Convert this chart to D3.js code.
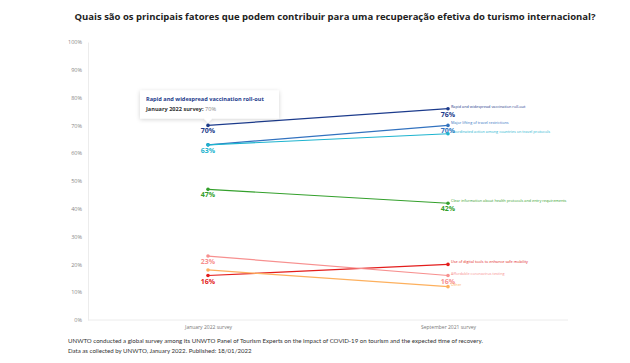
<!DOCTYPE html>
<html>
<head>
<meta charset="utf-8">
<script src="https://cdn.jsdelivr.net/npm/d3@7"></script>
<style>
  body { margin: 0; background: #fff; }
  text { font-family: "Open Sans", sans-serif; }
</style>
</head>
<body>
<div id="chart"></div>
<script>
const surveys = ['January 2022 survey', 'September 2021 survey'];
const factors = [
  'Rapid and widespread vaccination roll-out',
  'Major lifting of travel restrictions',
  'Coordinated action among countries on travel protocols',
  'Clear information about health protocols and entry requirements',
  'Use of digital tools to enhance safe mobility',
  'Affordable coronavirus testing',
  'Other',
];
const jan2022 = [70, 63, 63, 47, 16, 23, 18];
const sep2021 = [76, 70, 67, 42, 20, 16, 12];
// which end values get a label
const labelJan = [true, false, true, true, true, true, false];
const labelSep = [true, true, false, true, false, true, false];
const yTicks = [0, 10, 20, 30, 40, 50, 60, 70, 80, 90, 100];
const colors = ['#1c3b8c', '#3272bf', '#1db4cf', '#34a02c', '#e31d1c', '#f7908f', '#fdb05e'];

const width = 630;
const height = 363;
const margin = { top: 42, right: 62, bottom: 43, left: 88 };

const svg = d3.select('#chart')
  .append('svg')
  .attr('width', width)
  .attr('height', height);

const defs = svg.append('defs');
const shadow = defs.append('filter').attr('id', 'shadow')
  .attr('x', '-20%').attr('y', '-40%').attr('width', '140%').attr('height', '180%');
shadow.append('feDropShadow')
  .attr('dx', 0).attr('dy', 1).attr('stdDeviation', 2)
  .attr('flood-color', '#000').attr('flood-opacity', 0.18);

svg.append('text')
  .attr('x', 335)
  .attr('y', 20)
  .attr('text-anchor', 'middle')
  .attr('font-size', 9.5)
  .attr('font-weight', 700)
  .attr('fill', '#222')
  .text('Quais são os principais fatores que podem contribuir para uma recuperação efetiva do turismo internacional?');

const xScale = d3.scalePoint()
  .domain(surveys)
  .range([margin.left, width - margin.right])
  .padding(0.5);

const yScale = d3.scaleLinear()
  .domain([0, 100])
  .range([height - margin.bottom, margin.top]);

// axes
const yAxis = d3.axisLeft(yScale)
  .tickValues(yTicks)
  .tickSize(0)
  .tickPadding(6)
  .tickFormat((d) => `${d}%`);

const gy = svg.append('g')
  .attr('transform', `translate(${margin.left},0)`)
  .call(yAxis);
gy.select('.domain').attr('stroke', '#ececec');
gy.selectAll('text').attr('font-size', 5.5).attr('fill', '#888');

const xAxis = d3.axisBottom(xScale).tickSize(0).tickPadding(5);
const gx = svg.append('g')
  .attr('transform', `translate(0,${height - margin.bottom})`)
  .call(xAxis);
gx.select('.domain').attr('stroke', '#ececec').attr('d', `M${margin.left},0H${width - margin.right}`);
gx.selectAll('text').attr('font-size', 5).attr('fill', '#777');

// lines
const data = factors.map((f, i) => ({
  name: f,
  color: colors[i],
  values: [
    { survey: surveys[0], v: jan2022[i], label: labelJan[i] },
    { survey: surveys[1], v: sep2021[i], label: labelSep[i] },
  ],
}));

const line = d3.line()
  .x((d) => xScale(d.survey))
  .y((d) => yScale(d.v));

const series = svg.selectAll('.series')
  .data(data)
  .enter()
  .append('g')
  .attr('class', 'series');

series.append('path')
  .attr('fill', 'none')
  .attr('stroke', (d) => d.color)
  .attr('stroke-width', 1.2)
  .attr('d', (d) => line(d.values));

series.selectAll('circle')
  .data((d) => d.values.map((v) => ({ ...v, color: d.color })))
  .enter()
  .append('circle')
  .attr('cx', (d) => xScale(d.survey))
  .attr('cy', (d) => yScale(d.v))
  .attr('r', 1.8)
  .attr('fill', (d) => d.color);

series.selectAll('.val')
  .data((d) => d.values.filter((v) => v.label).map((v) => ({ ...v, color: d.color })))
  .enter()
  .append('text')
  .attr('class', 'val')
  .attr('x', (d) => xScale(d.survey))
  .attr('y', (d) => yScale(d.v) + 8)
  .attr('text-anchor', 'middle')
  .attr('font-size', 7)
  .attr('font-weight', 700)
  .attr('fill', (d) => d.color)
  .text((d) => `${d.v}%`);

series.append('text')
  .attr('x', xScale(surveys[1]) + 3)
  .attr('y', (d) => yScale(d.values[1].v) - 1)
  .attr('font-size', 3.8)
  .attr('fill', (d) => d.color)
  .text((d) => d.name);

// tooltip on the first series
const tipX = xScale(surveys[0]);
const tipY = yScale(jan2022[0]);
const tip = svg.append('g').attr('transform', `translate(${tipX},${tipY - 7})`);
tip.append('path')
  .attr('d', 'M-68,-28H71V0H4L0,4L-4,0H-68Z')
  .attr('fill', '#fff')
  .attr('filter', 'url(#shadow)');
tip.append('text')
  .attr('x', -62)
  .attr('y', -17)
  .attr('font-size', 5.6)
  .attr('font-weight', 700)
  .attr('fill', colors[0])
  .text(factors[0]);
const t2 = tip.append('text')
  .attr('x', -62)
  .attr('y', -7)
  .attr('font-size', 5.6);
t2.append('tspan').attr('font-weight', 700).attr('fill', '#333').text('January 2022 survey: ');
t2.append('tspan').attr('fill', '#888').text(`${jan2022[0]}%`);

// footer
const foot = svg.append('g').attr('transform', 'translate(68,0)');
foot.append('text')
  .attr('y', 343)
  .attr('font-size', 6.1)
  .attr('fill', '#333')
  .style('font-family', 'Lato, sans-serif')
  .text('UNWTO conducted a global survey among its UNWTO Panel of Tourism Experts on the impact of COVID-19 on tourism and the expected time of recovery.');
foot.append('text')
  .attr('y', 353)
  .attr('font-size', 6.1)
  .attr('fill', '#333')
  .style('font-family', 'Lato, sans-serif')
  .text('Data as collected by UNWTO, January 2022. Published: 18/01/2022');
</script>
</body>
</html>
